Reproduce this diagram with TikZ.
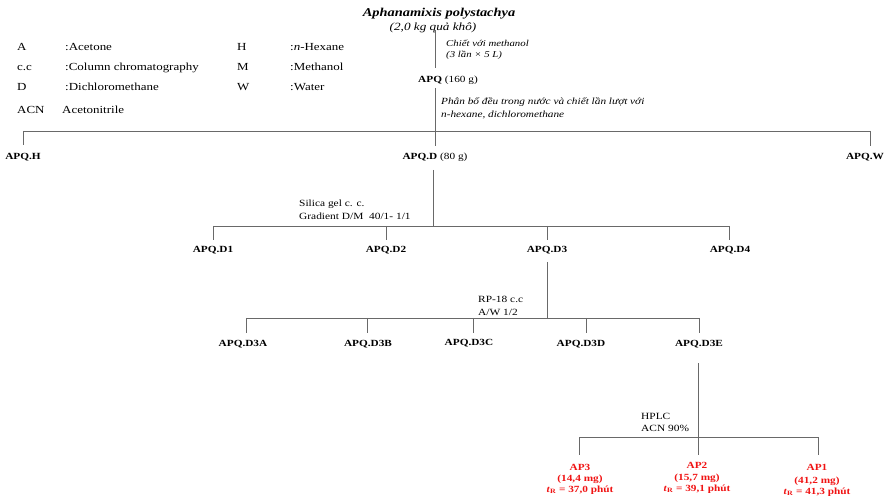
\documentclass[tikz,border=0pt]{standalone}
\usepackage{fontspec}
\setmainfont[FakeStretch=1.2]{Liberation Serif}
\definecolor{redtxt}{RGB}{240,20,20}
\definecolor{lncol}{RGB}{105,105,105}
\begin{document}
\begin{tikzpicture}[x=1pt,y=-1pt,
  lab/.style={inner sep=0,anchor=base,font=\fontsize{9.4}{11}\selectfont\bfseries},
  leg/.style={inner sep=0,anchor=base west,font=\fontsize{10.8}{12}\selectfont},
  cmt/.style={inner sep=0,anchor=base west,font=\fontsize{9}{11}\selectfont\itshape},
  cmtb/.style={cmt,font=\fontsize{9.4}{11}\selectfont\itshape},
  note/.style={inner sep=0,anchor=base west,font=\fontsize{9.5}{11}\selectfont},
  res/.style={lab,text=redtxt},
  ln/.style={draw=lncol,line width=0.9pt}]
\useasboundingbox (0,0) rectangle (895,497);

% legend
\node[leg] (lA) at (17,51) {A};
\node[leg] (lAt) at (65,51) {:Acetone};
\node[leg] (lH) at (237,51) {H};
\node[leg] (lHt) at (290,51) {:\textit{n}-Hexane};
\node[leg] (lC) at (17,71) {c.c};
\node[leg] (lCt) at (65,71) {:Column chromatography};
\node[leg] (lM) at (237,71) {M};
\node[leg] (lMt) at (290,71) {:Methanol};
\node[leg] (lD) at (17,91) {D};
\node[leg] (lDt) at (65,91) {:Dichloromethane};
\node[leg] (lW) at (237,91) {W};
\node[leg] (lWt) at (290,91) {:Water};
\node[leg] (lN) at (17,114) {ACN};
\node[leg] (lNt) at (62,114) {Acetonitrile};

% top
\node[inner sep=0,anchor=base,font=\fontsize{12}{14}\selectfont\bfseries\itshape] (title) at (439,17) {Aphanamixis polystachya};
\node[inner sep=0,anchor=base,font=\fontsize{11}{12}\selectfont\itshape] (sub) at (433,30.5) {(2,0 kg quả khô)};
\node[cmt] (c1) at (446,47) {Chiết với methanol};
\node[cmt] (c2) at (446,57.5) {(3 lần × 5 L)};
\node[lab] (apq) at (448,83) {APQ \mdseries(160 g)};
\node[cmtb] (c3) at (441,104.5) {Phân bố đều trong nước và chiết lần lượt với};
\node[cmtb] (c4) at (441,118) {n-hexane, dichloromethane};

\coordinate (s0) at (435,30);
\coordinate (e0) at (435,68);
\draw[ln] (s0) -- (e0);

% level 1
\node[lab] (apqH) at (23,160) {APQ.H};
\node[lab] (apqD) at (435,160) {APQ.D \mdseries(80 g)};
\node[lab] (apqW) at (865,160) {APQ.W};
\coordinate (s1) at (435,88);
\coordinate (b1L) at (23,131);
\coordinate (b1R) at (870,131);
\coordinate (e1) at (435,146);
\draw[ln] (s1) -- (e1);
\draw[ln] (b1L) -- (b1R);
\draw[ln] (b1L) -- ++(0,14);
\draw[ln] (b1R) -- ++(0,15);

% level 2
\node[note] (n1) at (299,207) {Silica gel c. c.};
\node[note] (n2) at (299,220) {Gradient D/M\ \ 40/1- 1/1};
\node[lab] (d1) at (213,253) {APQ.D1};
\node[lab] (d2) at (386,253) {APQ.D2};
\node[lab] (d3) at (547,253) {APQ.D3};
\node[lab] (d4) at (730,253) {APQ.D4};
\coordinate (s2) at (433,170);
\coordinate (m2) at (433,226);
\coordinate (b2L) at (213,226);
\coordinate (b2R) at (729,226);
\draw[ln] (s2) -- (m2);
\draw[ln] (b2L) -- (b2R);
\draw[ln] (b2L) -- ++(0,14);
\draw[ln] (b2L -| d2) -- ++(0,14);
\draw[ln] (b2L -| d3) -- ++(0,14);
\draw[ln] (b2R) -- ++(0,14);

% level 3
\node[note] (n3) at (478,302) {RP-18 c.c};
\node[note] (n4) at (478,316) {A/W 1/2};
\node[lab] (d3a) at (243,346) {APQ.D3A};
\node[lab] (d3b) at (368,346) {APQ.D3B};
\node[lab] (d3c) at (469,345) {APQ.D3C};
\node[lab] (d3d) at (581,346) {APQ.D3D};
\node[lab] (d3e) at (699,346) {APQ.D3E};
\coordinate (s3) at (547,262);
\coordinate (m3) at (547,318);
\coordinate (b3L) at (246,318);
\coordinate (b3R) at (699,318);
\coordinate (k3b) at (367,318);
\coordinate (k3c) at (473,318);
\coordinate (k3d) at (586,318);
\draw[ln] (s3) -- (m3);
\draw[ln] (b3L) -- (b3R);
\draw[ln] (b3L) -- ++(0,15);
\draw[ln] (k3b) -- ++(0,15);
\draw[ln] (k3c) -- ++(0,15);
\draw[ln] (k3d) -- ++(0,15);
\draw[ln] (b3R) -- ++(0,15);

% level 4
\node[note] (n5) at (641,419) {HPLC};
\node[note] (n6) at (641,431) {ACN 90\%};
\coordinate (s4) at (698,363);
\coordinate (e4) at (698,455);
\coordinate (b4L) at (579,437);
\coordinate (b4R) at (818,437);
\draw[ln] (s4) -- (e4);
\draw[ln] (b4L) -- (b4R);
\draw[ln] (b4L) -- ++(0,18);
\draw[ln] (b4R) -- ++(0,18);

\node[res] (ap3a) at (580,470) {AP3};
\node[res] (ap3b) at (580,481) {(14,4 mg)};
\node[res] (ap3c) at (580,492) {\textit{t}\textsubscript{R} = 37,0 phút};
\node[res] (ap2a) at (697,468) {AP2};
\node[res] (ap2b) at (697,480) {(15,7 mg)};
\node[res] (ap2c) at (697,491) {\textit{t}\textsubscript{R} = 39,1 phút};
\node[res] (ap1a) at (817,470) {AP1};
\node[res] (ap1b) at (817,483) {(41,2 mg)};
\node[res] (ap1c) at (817,494) {\textit{t}\textsubscript{R} = 41,3 phút};
\end{tikzpicture}
\end{document}
